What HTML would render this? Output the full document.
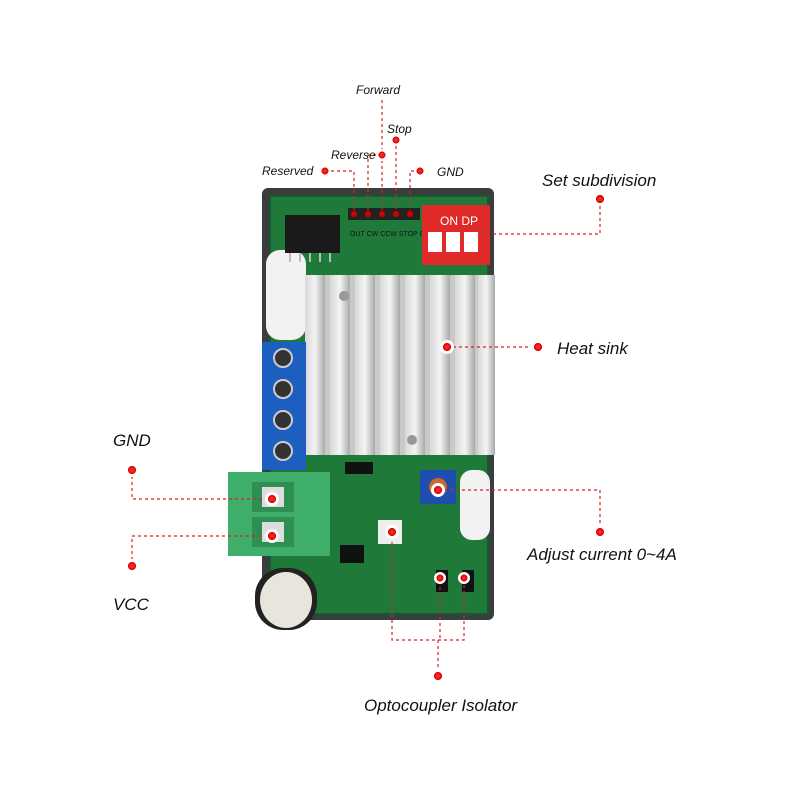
<!DOCTYPE html>
<html><head><meta charset="utf-8"><style>
html,body{margin:0;padding:0;background:#fff;}
svg{display:block}
text{font-family:"Liberation Sans",sans-serif;font-style:italic;fill:#111}
</style></head><body>
<svg width="800" height="800" viewBox="0 0 800 800" xmlns="http://www.w3.org/2000/svg">
<defs>
<linearGradient id="fin" x1="0" x2="1">
<stop offset="0" stop-color="#d8d8d8"/><stop offset="0.5" stop-color="#f4f4f4"/><stop offset="1" stop-color="#a8a8a8"/>
</linearGradient>
<radialGradient id="dot"><stop offset="0" stop-color="#ff3a3a"/><stop offset="0.55" stop-color="#d00"/><stop offset="0.6" stop-color="#fff"/><stop offset="1" stop-color="#fff"/></radialGradient>
</defs>
<!-- enclosure -->
<rect x="262" y="188" width="232" height="432" rx="6" fill="#3a3d3f"/>
<!-- pcb -->
<rect x="270" y="196" width="218" height="418" fill="#1f7a3a"/>
<rect x="270" y="196" width="218" height="418" fill="none" stroke="#155c2a" stroke-width="2"/>
<!-- white pads on sides -->
<rect x="266" y="250" width="40" height="90" rx="14" fill="#f2f2f2"/>
<rect x="460" y="470" width="30" height="70" rx="12" fill="#f2f2f2"/>
<!-- IC top left -->
<rect x="285" y="215" width="55" height="38" fill="#1a1a1a"/>
<g stroke="#bbb" stroke-width="2"><line x1="290" y1="253" x2="290" y2="262"/><line x1="300" y1="253" x2="300" y2="262"/><line x1="310" y1="253" x2="310" y2="262"/><line x1="320" y1="253" x2="320" y2="262"/><line x1="330" y1="253" x2="330" y2="262"/></g>
<!-- pin header top -->
<g fill="#222"><rect x="348" y="208" width="72" height="12"/></g>
<g fill="#d40000"><circle cx="354" cy="214" r="3"/><circle cx="368" cy="214" r="3"/><circle cx="382" cy="214" r="3"/><circle cx="396" cy="214" r="3"/><circle cx="410" cy="214" r="3"/></g>
<g font-size="7" fill="#fff" style="font-style:normal"><text x="350" y="236" fill="#eee" style="font-style:normal">OUT CW CCW STOP GND</text></g>
<!-- DIP switch -->
<rect x="422" y="205" width="68" height="60" fill="#e02a2a"/>
<text x="440" y="225" font-size="12" fill="#fff" style="font-style:normal;fill:#fff">ON DP</text>
<rect x="428" y="232" width="14" height="20" fill="#fff"/><rect x="446" y="232" width="14" height="20" fill="#fff"/><rect x="464" y="232" width="14" height="20" fill="#fff"/>
<!-- heatsink -->
<rect x="305" y="275" width="190" height="180" fill="#c9c9c9"/>
<g fill="url(#fin)">
<rect x="305" y="275" width="20" height="180"/><rect x="330" y="275" width="20" height="180"/><rect x="355" y="275" width="20" height="180"/><rect x="380" y="275" width="20" height="180"/><rect x="405" y="275" width="20" height="180"/><rect x="430" y="275" width="20" height="180"/><rect x="455" y="275" width="20" height="180"/><rect x="478" y="275" width="17" height="180"/>
</g>
<circle cx="344" cy="296" r="5" fill="#999"/><circle cx="412" cy="440" r="5" fill="#999"/>
<!-- blue terminal -->
<rect x="262" y="342" width="44" height="128" fill="#1c5fc0"/>
<g fill="#333" stroke="#ccc" stroke-width="2"><circle cx="283" cy="358" r="9"/><circle cx="283" cy="389" r="9"/><circle cx="283" cy="420" r="9"/><circle cx="283" cy="451" r="9"/></g>
<!-- green terminal -->
<rect x="228" y="472" width="102" height="84" fill="#3fae6a"/>
<rect x="252" y="482" width="42" height="30" fill="#2d8f52"/><rect x="252" y="517" width="42" height="30" fill="#2d8f52"/>
<rect x="262" y="487" width="22" height="20" fill="#ddd"/><rect x="262" y="522" width="22" height="20" fill="#ddd"/>
<!-- resistor -->
<rect x="345" y="462" width="28" height="12" fill="#111"/>
<!-- potentiometer -->
<rect x="420" y="470" width="36" height="34" fill="#1f4fae"/><circle cx="438" cy="487" r="9" fill="#c86b2a"/>
<!-- small parts -->
<rect x="378" y="520" width="24" height="24" fill="#eee"/>
<rect x="340" y="545" width="24" height="18" fill="#111"/>
<rect x="436" y="570" width="12" height="22" fill="#111"/><rect x="462" y="570" width="12" height="22" fill="#111"/>
<!-- capacitor -->
<rect x="255" y="568" width="62" height="62" rx="28" fill="#222"/>
<ellipse cx="286" cy="600" rx="26" ry="28" fill="#e8e6dc"/>
<!-- callouts -->
<g stroke="#d22" stroke-width="1.2" stroke-dasharray="3,3" fill="none">
<polyline points="325,171 354,171 354,210"/>
<polyline points="382,155 368,155 368,210"/>
<polyline points="382,100 382,210"/>
<polyline points="396,140 396,210"/>
<polyline points="420,171 410,171 410,210"/>
<polyline points="600,200 600,234 490,234"/>
<line x1="447" y1="347" x2="538" y2="347"/>
<polyline points="132,470 132,499 262,499"/>
<polyline points="132,566 132,536 262,536"/>
<polyline points="438,490 600,490 600,532"/>
<polyline points="392,530 392,640 464,640 464,575"/>
<polyline points="440,575 440,640"/>
<line x1="438" y1="640" x2="438" y2="672"/>
</g>
<g fill="url(#dot)">
<circle cx="325" cy="171" r="6"/><circle cx="382" cy="155" r="6"/><circle cx="396" cy="140" r="6"/><circle cx="420" cy="171" r="6"/>
<circle cx="600" cy="199" r="7"/><circle cx="447" cy="347" r="7"/><circle cx="538" cy="347" r="7"/>
<circle cx="132" cy="470" r="7"/><circle cx="132" cy="566" r="7"/><circle cx="272" cy="499" r="7"/><circle cx="272" cy="536" r="7"/>
<circle cx="438" cy="490" r="7"/><circle cx="600" cy="532" r="7"/><circle cx="392" cy="532" r="7"/>
<circle cx="440" cy="578" r="6"/><circle cx="464" cy="578" r="6"/><circle cx="438" cy="676" r="7"/>
</g>
<text x="356" y="94" font-size="12">Forward</text>
<text x="387" y="133" font-size="12">Stop</text>
<text x="331" y="159" font-size="12">Reverse</text>
<text x="262" y="175" font-size="12">Reserved</text>
<text x="437" y="176" font-size="12">GND</text>
<text x="542" y="186" font-size="17">Set subdivision</text>
<text x="557" y="354" font-size="17">Heat sink</text>
<text x="113" y="446" font-size="17">GND</text>
<text x="113" y="610" font-size="17">VCC</text>
<text x="527" y="560" font-size="17">Adjust current 0~4A</text>
<text x="364" y="711" font-size="17">Optocoupler Isolator</text>
</svg>
</body></html>
